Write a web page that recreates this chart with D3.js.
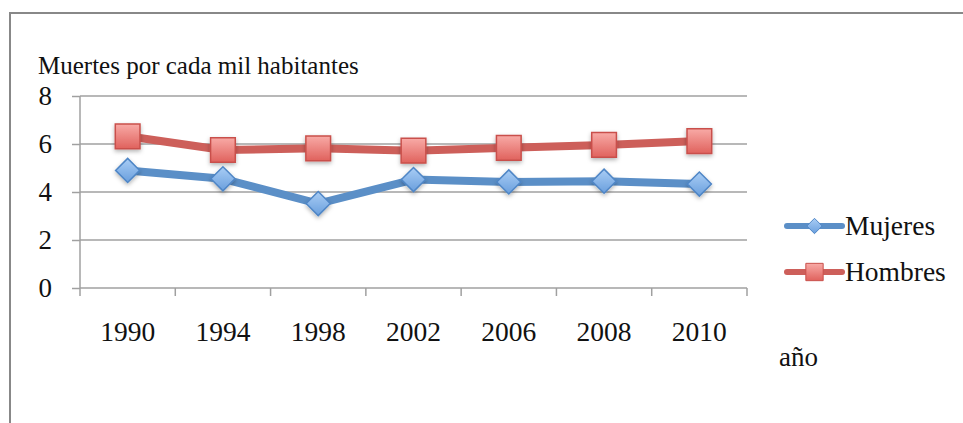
<!DOCTYPE html>
<html>
<head>
<meta charset="utf-8">
<script src="https://cdn.jsdelivr.net/npm/d3@7"></script>
<style>
  body { margin: 0; background: #fff; }
  text { font-family: "Liberation Serif", "DejaVu Serif", serif; fill: #111; }
</style>
</head>
<body>
<div id="chart"></div>
<script>
// data
var years = ["1990", "1994", "1998", "2002", "2006", "2008", "2010"];
var mujeres = [4.9, 4.55, 3.52, 4.52, 4.42, 4.45, 4.33];
var hombres = [6.32, 5.75, 5.82, 5.72, 5.84, 5.96, 6.12];
var yTicks = [0, 2, 4, 6, 8];

var width = 963, height = 423;
var plotLeft = 80, plotRight = 747, plotTop = 96, plotBottom = 288;

var svg = d3.select("#chart").append("svg")
  .attr("width", width)
  .attr("height", height);

var defs = svg.append("defs");
function grad(id, c1, c2) {
  var g = defs.append("linearGradient").attr("id", id)
    .attr("x1", 0).attr("y1", 0).attr("x2", 0).attr("y2", 1);
  g.append("stop").attr("offset", "0%").attr("stop-color", c1);
  g.append("stop").attr("offset", "100%").attr("stop-color", c2);
}
grad("gRed", "#f8aaa6", "#e0625d");
grad("gBlue", "#a9cdf5", "#6a9fdd");
var f = defs.append("filter").attr("id", "shadow")
  .attr("x", "-50%").attr("y", "-50%").attr("width", "200%").attr("height", "200%");
f.append("feDropShadow").attr("dx", 0).attr("dy", 2).attr("stdDeviation", 2)
  .attr("flood-color", "#000").attr("flood-opacity", 0.3);

// outer frame (top and left edges visible)
svg.append("path")
  .attr("d", "M10,423 L10,13 L963,13")
  .attr("fill", "none")
  .attr("stroke", "#888")
  .attr("stroke-width", 2);

var x = d3.scaleBand().domain(years).range([plotLeft, plotRight]).paddingInner(0).paddingOuter(0);
var y = d3.scaleLinear().domain([0, 8]).range([plotBottom, plotTop]);

// gridlines
svg.append("g").selectAll("line")
  .data(yTicks.filter(function(d) { return d > 0; }))
  .enter().append("line")
  .attr("x1", plotLeft).attr("x2", plotRight)
  .attr("y1", function(d) { return y(d); })
  .attr("y2", function(d) { return y(d); })
  .attr("stroke", "#a0a0a0")
  .attr("stroke-width", 1.5);

// y axis
var yAxis = svg.append("g")
  .attr("transform", "translate(" + plotLeft + ",0)")
  .call(d3.axisLeft(y).tickValues(yTicks).tickSize(8).tickPadding(20).tickFormat(d3.format("d")));
yAxis.selectAll("line, path").attr("stroke", "#a0a0a0").attr("stroke-width", 1.5);
yAxis.select(".domain").attr("d", "M0," + plotTop + "V" + plotBottom);
yAxis.selectAll("text")
  .style("font-family", "Liberation Serif")
  .attr("font-size", 27)
  .attr("fill", "#111");

// x axis: labels from band scale, ticks on band edges
var xAxis = svg.append("g")
  .attr("transform", "translate(0," + plotBottom + ")")
  .call(d3.axisBottom(x).tickSize(0).tickPadding(33));
xAxis.select(".domain").attr("stroke", "#a0a0a0").attr("stroke-width", 1.5)
  .attr("d", "M" + plotLeft + ",0H" + plotRight);
xAxis.selectAll("text")
  .style("font-family", "Liberation Serif")
  .attr("font-size", 27.5)
  .attr("fill", "#111");
var edges = years.map(function(d) { return x(d); }).concat([plotRight]);
xAxis.selectAll(".edge")
  .data(edges)
  .enter().append("line")
  .attr("class", "edge")
  .attr("x1", function(d) { return d; }).attr("x2", function(d) { return d; })
  .attr("y1", 0).attr("y2", 8)
  .attr("stroke", "#a0a0a0").attr("stroke-width", 1.5);

// titles
svg.append("text")
  .attr("x", 38).attr("y", 74)
  .attr("font-size", 25)
  .text("Muertes por cada mil habitantes");
svg.append("text")
  .attr("x", 779).attr("y", 366)
  .attr("font-size", 27)
  .text("año");

var cx = function(d, i) { return x(years[i]) + x.bandwidth() / 2; };
var line = d3.line().x(cx).y(function(d) { return y(d); });

var series = [
  { name: "Hombres", values: hombres, color: "#cd5f5a", fill: "url(#gRed)", edge: "#c9504b", shape: d3.symbolSquare, size: 610, legendSize: 300 },
  { name: "Mujeres", values: mujeres, color: "#5b8fc7", fill: "url(#gBlue)", edge: "#4f86c6", shape: d3.symbolDiamond2, size: 370, legendSize: 150 }
];

series.forEach(function(s) {
  svg.append("path")
    .datum(s.values)
    .attr("d", line)
    .attr("fill", "none")
    .attr("stroke", s.color)
    .attr("stroke-width", 8)
    .attr("stroke-linejoin", "round");
});

series.forEach(function(s) {
  svg.append("g").selectAll("path")
    .data(s.values)
    .enter().append("path")
    .attr("transform", function(d, i) { return "translate(" + cx(d, i) + "," + y(d) + ")"; })
    .attr("d", d3.symbol().type(s.shape).size(s.size))
    .attr("fill", s.fill)
    .attr("stroke", s.edge)
    .attr("stroke-width", 1.5)
    .attr("filter", "url(#shadow)");
});

// legend
var legend = svg.append("g").attr("transform", "translate(787,0)");
var legendItems = [series[1], series[0]];
var legendY = [226, 272];
legendItems.forEach(function(s, i) {
  var g = legend.append("g").attr("transform", "translate(0," + legendY[i] + ")");
  g.append("line")
    .attr("x1", 0).attr("x2", 55)
    .attr("stroke", s.color).attr("stroke-width", 6)
    .attr("stroke-linecap", "round");
  g.append("path")
    .attr("transform", "translate(27.5,0)")
    .attr("d", d3.symbol().type(s.shape).size(s.legendSize))
    .attr("fill", s.fill)
    .attr("stroke", s.edge)
    .attr("stroke-width", 1);
  g.append("text")
    .attr("x", 58).attr("y", 9)
    .attr("font-size", 27.5)
    .text(s.name);
});
</script>
</body>
</html>
